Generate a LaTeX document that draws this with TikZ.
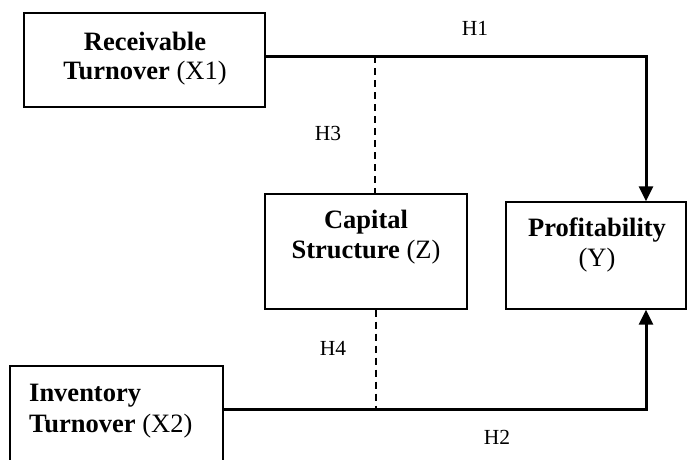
\documentclass[tikz,border=0pt]{standalone}
\usepackage{fontspec}
\setmainfont{Liberation Serif}
\usetikzlibrary{arrows.meta}
\tikzset{
  box/.style={draw=black, line width=1.4pt, rectangle, inner sep=0pt},
  lbl/.style={font=\fontsize{26.5}{30}\selectfont, inner sep=0pt, anchor=base},
  hyp/.style={font=\fontsize{21.5}{25}\selectfont, inner sep=0pt},
  mainline/.style={line width=3pt, -{Triangle[length=15pt,width=14pt]}},
  dashline/.style={line width=1.8pt, dash pattern=on 7pt off 5pt}
}
\begin{document}
\begin{tikzpicture}[x=1pt,y=-1pt]
\clip (0,0) rectangle (688,459);
\fill[white] (0,0) rectangle (688,459);
% boxes
\node[box, minimum width=241pt, minimum height=94pt] (x1) at (144.5,60) {};
\node[box, minimum width=202pt, minimum height=115pt] (z) at (366,251.5) {};
\node[box, minimum width=180pt, minimum height=107pt] (y) at (596,255.5) {};
\node[box, minimum width=213pt, minimum height=110pt] (x2) at (116.5,421) {};
% box texts
\node[lbl] (x1t1) at (145,50) {\textbf{Receivable}};
\node[lbl] (x1t2) at (145,79) {\textbf{Turnover} (X1)};
\node[lbl] (zt1) at (366,228) {\textbf{Capital}};
\node[lbl] (zt2) at (366,258) {\textbf{Structure} (Z)};
\node[lbl] (yt1) at (597,236) {\textbf{Profitability}};
\node[lbl] (yt2) at (597,266) {(Y)};
\node[lbl, anchor=base west] (x2t1) at (29,401) {\textbf{Inventory}};
\node[lbl, anchor=base west] (x2t2) at (29,432) {\textbf{Turnover} (X2)};
% junction coordinates
\coordinate (j1) at (646,56);
\coordinate (j2) at (646,409);
\coordinate (d1) at (375,56);
\coordinate (d2) at (376,409);
% main connectors
\draw[mainline] (x1.east |- j1) -- (j1) -- (y.north -| j1);
\draw[mainline] (x2.east |- j2) -- (j2) -- (y.south -| j2);
% dashed connectors
\draw[dashline] (d1) -- (d1 |- z.north);
\draw[dashline] (z.south -| d2) -- (d2);
% hypothesis labels
\node[hyp] (h1) at (475,28) {H1};
\node[hyp] (h3) at (328,133) {H3};
\node[hyp] (h4) at (333,348) {H4};
\node[hyp] (h2) at (497,437) {H2};
\end{tikzpicture}
\end{document}
